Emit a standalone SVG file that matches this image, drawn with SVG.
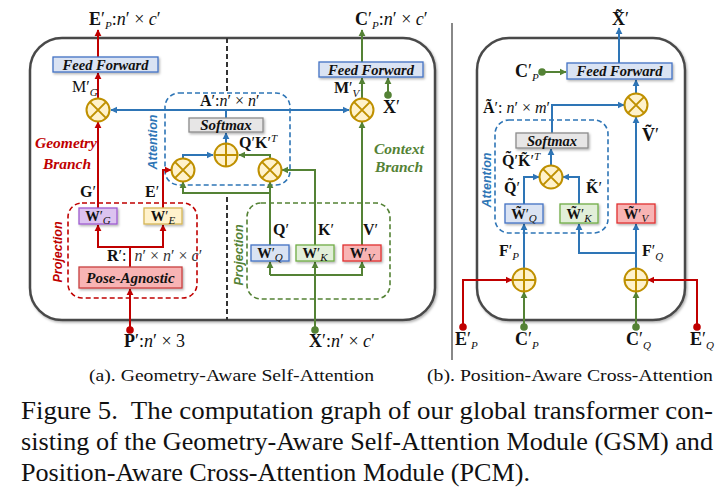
<svg xmlns="http://www.w3.org/2000/svg" xmlns:xlink="http://www.w3.org/1999/xlink" width="726" height="500" viewBox="0 0 726 500">
<defs>
<style>
.ln{fill:none;stroke-width:2}
.r{stroke:#c00000}.g{stroke:#548235}.b{stroke:#2e75b6}
.outer{fill:#fff;stroke:#4a4a4a;stroke-width:2.5}
.dash{fill:none;stroke-width:1.6;stroke-dasharray:5 3}
.box{stroke-width:1.3}
.op{fill:#fff2cc;stroke:#bf9000;stroke-width:2}
.m{font-family:"Liberation Serif",serif;font-size:16px;fill:#111}
.io{font-size:18px}
.mb{font-family:"Liberation Serif",serif;font-size:14.5px;fill:#111;text-anchor:middle}
.bd{font-weight:bold}
.it{font-style:italic}
.sb{font-style:italic;font-size:11px}
.lb{font-family:"Liberation Serif",serif;font-weight:bold;font-style:italic;fill:#111;text-anchor:middle}
.vt{font-family:"Liberation Sans",sans-serif;font-weight:bold;font-style:italic;font-size:12.5px;text-anchor:middle}
.br{font-family:"Liberation Serif",serif;font-weight:bold;font-style:italic;font-size:15.5px;text-anchor:middle}
.cap{font-family:"Liberation Serif",serif;fill:#111}
</style>
<filter id="sh" x="-20%" y="-20%" width="140%" height="160%"><feDropShadow dx="1.2" dy="1.5" stdDeviation="0.9" flood-color="#000" flood-opacity="0.3"/></filter>
<marker id="aR" viewBox="0 0 10 10" refX="9" refY="5" markerWidth="3.6" markerHeight="3.6" orient="auto"><path d="M0,0 L10,5 L0,10 z" fill="#c00000"/></marker>
<marker id="aG" viewBox="0 0 10 10" refX="9" refY="5" markerWidth="3.6" markerHeight="3.6" orient="auto"><path d="M0,0 L10,5 L0,10 z" fill="#548235"/></marker>
<marker id="aB" viewBox="0 0 10 10" refX="9" refY="5" markerWidth="3.6" markerHeight="3.6" orient="auto"><path d="M0,0 L10,5 L0,10 z" fill="#2e75b6"/></marker>
<g id="otimes"><circle r="11.5" class="op"/><path d="M-8.1,-8.1 L8.1,8.1 M-8.1,8.1 L8.1,-8.1" stroke="#bf9000" stroke-width="2"/></g>
<g id="oplus"><circle r="11.5" class="op"/><path d="M-11.5,0 H11.5 M0,-11.5 V11.5" stroke="#bf9000" stroke-width="2"/></g>
</defs>
<rect width="726" height="500" fill="#fff"/>

<!-- outer frames -->
<g id="frames">
<rect x="30" y="38" width="405" height="282" rx="32" class="outer" filter="url(#sh)"/>
<rect x="477" y="38" width="208" height="282" rx="32" class="outer" filter="url(#sh)"/>
<line x1="452" y1="23" x2="452" y2="360" stroke="#888" stroke-width="2"/>
<path d="M227,38 V93 M227,197 V320" stroke="#333" stroke-width="2" stroke-dasharray="5 3" fill="none"/>
</g>

<!-- dashed groups -->
<g id="groups">
<rect x="68" y="203" width="129" height="95" rx="14" class="dash" stroke="#c00000"/>
<rect x="247" y="203" width="143" height="96" rx="14" class="dash" stroke="#548235"/>
<rect x="165" y="93" width="125" height="92" rx="14" class="dash" stroke="#2e75b6"/>
<rect x="495" y="120" width="113" height="113" rx="14" class="dash" stroke="#2e75b6"/>
<text class="vt" fill="#c00000" transform="translate(62,252) rotate(-90)">Projection</text>
<text class="vt" fill="#548235" transform="translate(243,255) rotate(-90)">Projection</text>
<text class="vt" fill="#2e75b6" font-size="12" transform="translate(157,142) rotate(-90)">Attention</text>
<text class="vt" fill="#2e75b6" font-size="12" transform="translate(491,180) rotate(-90)">Attention</text>
</g>

<!-- connectors -->
<g id="connectors">
<!-- left: red -->
<path class="ln r" d="M130,330 V289" marker-end="url(#aR)"/>
<path class="ln r" d="M130,267 V247 H98 V225" marker-end="url(#aR)"/>
<path class="ln r" d="M130,247 H163 V225" marker-end="url(#aR)"/>
<path class="ln r" d="M98,208 V122" marker-end="url(#aR)"/>
<path class="ln r" d="M98,98.5 V73" marker-end="url(#aR)"/>
<path class="ln r" d="M98,57 V30" marker-end="url(#aR)"/>
<path class="ln r" d="M163,208 V170 H171" marker-end="url(#aR)"/>
<circle cx="130" cy="330" r="3.8" fill="#c00000"/>
<!-- left: blue -->
<path class="ln b" d="M226,118 V110 H111" marker-end="url(#aB)"/>
<path class="ln b" d="M226,110 H349" marker-end="url(#aB)"/>
<path class="ln b" d="M183,158 V155 H213" marker-end="url(#aB)"/>
<path class="ln b" d="M226,143 V133" marker-end="url(#aB)"/>
<!-- left: green -->
<path class="ln g" d="M270,158 V155 H239" marker-end="url(#aG)"/>
<path class="ln g" d="M315,330 V262" marker-end="url(#aG)"/>
<path class="ln g" d="M270,275 H362 V262" marker-end="url(#aG)"/>
<path class="ln g" d="M270,275 V262" marker-end="url(#aG)"/>
<path class="ln g" d="M270,245 V182" marker-end="url(#aG)"/>
<path class="ln g" d="M270,193 H183 V182" marker-end="url(#aG)"/>
<path class="ln g" d="M315,245 V170 H282" marker-end="url(#aG)"/>
<path class="ln g" d="M362,245 V122" marker-end="url(#aG)"/>
<path class="ln g" d="M362,98.5 V78" marker-end="url(#aG)"/>
<path class="ln g" d="M362,62 V30" marker-end="url(#aG)"/>
<path class="ln g" d="M388,95 V78" marker-end="url(#aG)"/>
<circle cx="315" cy="330" r="3.8" fill="#548235"/>
<circle cx="388" cy="95" r="3.8" fill="#548235"/>
<!-- right: blue -->
<path class="ln b" d="M619,63 V28" marker-end="url(#aB)"/>
<path class="ln b" d="M636,93 V80" marker-end="url(#aB)"/>
<path class="ln b" d="M552,133 V105 H624" marker-end="url(#aB)"/>
<path class="ln b" d="M636,204 V117" marker-end="url(#aB)"/>
<path class="ln b" d="M551,165 V149" marker-end="url(#aB)"/>
<path class="ln b" d="M524,204 V177 H539" marker-end="url(#aB)"/>
<path class="ln b" d="M579,204 V177 H563" marker-end="url(#aB)"/>
<path class="ln b" d="M524,268 V224" marker-end="url(#aB)"/>
<path class="ln b" d="M636,268 V224" marker-end="url(#aB)"/>
<path class="ln b" d="M636,253 H579 V224" marker-end="url(#aB)"/>
<!-- right: green -->
<path class="ln g" d="M542,72 H566" marker-end="url(#aG)"/>
<path class="ln g" d="M524,327 V292" marker-end="url(#aG)"/>
<path class="ln g" d="M636,327 V292" marker-end="url(#aG)"/>
<circle cx="542" cy="72" r="3.8" fill="#548235"/>
<circle cx="524" cy="327" r="3.8" fill="#548235"/>
<circle cx="636" cy="327" r="3.8" fill="#548235"/>
<!-- right: red -->
<path class="ln r" d="M463,327 V280 H512" marker-end="url(#aR)"/>
<path class="ln r" d="M697,327 V280 H648" marker-end="url(#aR)"/>
<circle cx="463" cy="327" r="3.8" fill="#c00000"/>
<circle cx="697" cy="327" r="3.8" fill="#c00000"/>
</g>

<!-- left nodes -->
<g id="ff-left">
<rect x="53" y="57" width="105" height="15" fill="#dae3f3" stroke="#4472c4" class="box" filter="url(#sh)"/>
<text class="lb" x="105.5" y="69.5" font-size="14.5">Feed Forward</text>
</g>
<g id="ff-ctx">
<rect x="319" y="62" width="104" height="15" fill="#dae3f3" stroke="#4472c4" class="box" filter="url(#sh)"/>
<text class="lb" x="371" y="74.5" font-size="14.5">Feed Forward</text>
</g>
<g id="mul-geo"><use xlink:href="#otimes" x="98" y="110"/></g>
<g id="mul-ctx"><use xlink:href="#otimes" x="362" y="110"/></g>
<g id="softmax-left">
<rect x="189" y="118" width="74" height="14" fill="#e7e6e6" stroke="#8c8c8c" class="box" filter="url(#sh)"/>
<text class="lb" x="226" y="130" font-size="15">Softmax</text>
</g>
<g id="add-att"><use xlink:href="#oplus" x="226" y="155"/></g>
<g id="mul-eq"><use xlink:href="#otimes" x="183" y="170"/></g>
<g id="mul-qk"><use xlink:href="#otimes" x="270" y="170"/></g>
<g id="wg">
<rect x="79" y="208" width="38" height="16" fill="#dcc3f0" stroke="#9e5ccf" class="box" filter="url(#sh)"/>
<text class="mb" x="98" y="220.5"><tspan class="bd">W</tspan>′<tspan class="sb" dy="3">G</tspan></text>
</g>
<g id="we">
<rect x="144" y="208" width="38" height="16" fill="#fff2cc" stroke="#d6b656" class="box" filter="url(#sh)"/>
<text class="mb" x="163" y="220.5"><tspan class="bd">W</tspan>′<tspan class="sb" dy="3">E</tspan></text>
</g>
<g id="pose-agnostic">
<rect x="79" y="267" width="103" height="21" fill="#f8b4b4" stroke="#c94040" class="box" filter="url(#sh)"/>
<text class="lb" x="130.5" y="282.5" font-size="15">Pose-Agnostic</text>
</g>
<g id="wq">
<rect x="251" y="245" width="38" height="16" fill="#dae3f3" stroke="#4472c4" class="box" filter="url(#sh)"/>
<text class="mb" x="270" y="257.5"><tspan class="bd">W</tspan>′<tspan class="sb" dy="3">Q</tspan></text>
</g>
<g id="wk">
<rect x="296" y="245" width="38" height="16" fill="#e2efd9" stroke="#70ad47" class="box" filter="url(#sh)"/>
<text class="mb" x="315" y="257.5"><tspan class="bd">W</tspan>′<tspan class="sb" dy="3">K</tspan></text>
</g>
<g id="wv">
<rect x="343" y="245" width="38" height="16" fill="#f8b4b4" stroke="#e03030" class="box" filter="url(#sh)"/>
<text class="mb" x="362" y="257.5"><tspan class="bd">W</tspan>′<tspan class="sb" dy="3">V</tspan></text>
</g>

<!-- right nodes -->
<g id="ff-right">
<rect x="567" y="63" width="105" height="16" fill="#dae3f3" stroke="#4472c4" class="box" filter="url(#sh)"/>
<text class="lb" x="619.5" y="76" font-size="14.5">Feed Forward</text>
</g>
<g id="mul-av"><use xlink:href="#otimes" x="636" y="105"/></g>
<g id="softmax-right">
<rect x="516" y="133" width="72" height="15" fill="#e7e6e6" stroke="#8c8c8c" class="box" filter="url(#sh)"/>
<text class="lb" x="552" y="145.5" font-size="14.5">Softmax</text>
</g>
<g id="mul-qk2"><use xlink:href="#otimes" x="551" y="177"/></g>
<g id="wq2">
<rect x="505" y="204" width="38" height="19" fill="#dae3f3" stroke="#4472c4" class="box" filter="url(#sh)"/>
<text class="mb" x="524" y="218.5"><tspan class="bd">W&#x303;</tspan>′<tspan class="sb" dy="3">Q</tspan></text>
</g>
<g id="wk2">
<rect x="560" y="204" width="38" height="19" fill="#e2efd9" stroke="#70ad47" class="box" filter="url(#sh)"/>
<text class="mb" x="579" y="218.5"><tspan class="bd">W&#x303;</tspan>′<tspan class="sb" dy="3">K</tspan></text>
</g>
<g id="wv2">
<rect x="617" y="204" width="38" height="19" fill="#f8b4b4" stroke="#e03030" class="box" filter="url(#sh)"/>
<text class="mb" x="636" y="218.5"><tspan class="bd">W&#x303;</tspan>′<tspan class="sb" dy="3">V</tspan></text>
</g>
<g id="add-p"><use xlink:href="#oplus" x="524" y="280"/></g>
<g id="add-q"><use xlink:href="#oplus" x="636" y="280"/></g>

<!-- labels -->
<g id="labels">
<text class="m io" x="89" y="25"><tspan class="bd">E</tspan>′<tspan class="sb" dy="4">P</tspan><tspan dy="-4">:</tspan><tspan class="it">n</tspan>′ × <tspan class="it">c</tspan>′</text>
<text class="m io" x="355" y="25"><tspan class="bd">C</tspan>′<tspan class="sb" dy="4">P</tspan><tspan dy="-4">:</tspan><tspan class="it">n</tspan>′ × <tspan class="it">c</tspan>′</text>
<text class="m" x="72" y="92"><tspan>M</tspan>′<tspan class="sb" dy="4">G</tspan></text>
<text class="m" x="334" y="93"><tspan class="bd">M</tspan>′<tspan class="sb" dy="4">V</tspan></text>
<text class="m io" x="383" y="113"><tspan class="bd">X</tspan>′</text>
<text class="br" fill="#c00000" x="66" y="148">Geometry</text>
<text class="br" fill="#c00000" x="67" y="169">Branch</text>
<text class="br" fill="#548235" x="399" y="154">Context</text>
<text class="br" fill="#548235" x="399" y="172">Branch</text>
<text class="m" x="200" y="106" font-size="14.5"><tspan class="bd">A</tspan>′:<tspan class="it">n</tspan>′ × <tspan class="it">n</tspan>′</text>
<text class="m" x="239" y="148" font-size="15"><tspan class="bd">Q</tspan>′<tspan class="bd">K</tspan>′<tspan class="sb" dy="-6">T</tspan></text>
<text class="m" x="80" y="197"><tspan class="bd">G</tspan>′</text>
<text class="m" x="145" y="197"><tspan class="bd">E</tspan>′</text>
<text class="m" x="107" y="261" font-size="14"><tspan class="bd">R</tspan>′:&#160; <tspan class="it" fill="#333">n</tspan><tspan fill="#333">′ × </tspan><tspan class="it" fill="#333">n</tspan><tspan fill="#333">′ × </tspan><tspan class="it" fill="#333">c</tspan><tspan fill="#333">′</tspan></text>
<text class="m" x="273" y="235" font-size="17"><tspan class="bd">Q</tspan>′</text>
<text class="m" x="318" y="235" font-size="17"><tspan class="bd">K</tspan>′</text>
<text class="m" x="363" y="235" font-size="17"><tspan class="bd">V</tspan>′</text>
<text class="m io" x="124" y="347"><tspan class="bd">P</tspan>′:<tspan class="it">n</tspan>′ × 3</text>
<text class="m io" x="309" y="347"><tspan class="bd">X</tspan>′:<tspan class="it">n</tspan>′ × <tspan class="it">c</tspan>′</text>

<text class="m io" x="612" y="25"><tspan class="bd">X&#x303;</tspan>′</text>
<text class="m io" x="515" y="77"><tspan class="bd">C</tspan>′<tspan class="sb" dy="4">P</tspan></text>
<text class="m" x="483" y="113" font-size="14.5"><tspan class="bd">Ã</tspan>′: <tspan class="it">n</tspan>′ × <tspan class="it">m</tspan>′</text>
<text class="m io" x="642" y="141"><tspan class="bd">Ṽ</tspan>′</text>
<text class="m" x="502" y="166" font-size="15"><tspan class="bd">Q&#x303;</tspan>′<tspan class="bd">K&#x303;</tspan>′<tspan class="sb" dy="-6">T</tspan></text>
<text class="m" x="504" y="193" font-size="17"><tspan class="bd">Q&#x303;</tspan>′</text>
<text class="m" x="586" y="193" font-size="17"><tspan class="bd">K&#x303;</tspan>′</text>
<text class="m" x="499" y="256" font-size="17"><tspan class="bd">F</tspan>′<tspan class="sb" dy="4">P</tspan></text>
<text class="m" x="642" y="256" font-size="17"><tspan class="bd">F</tspan>′<tspan class="sb" dy="4">Q</tspan></text>
<text class="m io" x="455" y="345"><tspan class="bd">E</tspan>′<tspan class="sb" dy="4">P</tspan></text>
<text class="m io" x="515" y="345"><tspan class="bd">C</tspan>′<tspan class="sb" dy="4">P</tspan></text>
<text class="m io" x="626" y="345"><tspan class="bd">C</tspan>′<tspan class="sb" dy="4">Q</tspan></text>
<text class="m io" x="690" y="345"><tspan class="bd">E</tspan>′<tspan class="sb" dy="4">Q</tspan></text>
</g>

<!-- captions -->
<g id="captions">
<text class="cap" x="89" y="381" font-size="17.5" textLength="285" lengthAdjust="spacingAndGlyphs">(a). Geometry-Aware Self-Attention</text>
<text class="cap" x="427" y="381" font-size="17.5" textLength="286" lengthAdjust="spacingAndGlyphs">(b). Position-Aware Cross-Attention</text>
<text class="cap" x="21" y="419" font-size="25.5" textLength="692" lengthAdjust="spacingAndGlyphs">Figure 5.&#160; The computation graph of our global transformer con-</text>
<text class="cap" x="21" y="450" font-size="25.5" textLength="692" lengthAdjust="spacingAndGlyphs">sisting of the Geometry-Aware Self-Attention Module (GSM) and</text>
<text class="cap" x="21" y="481" font-size="25.5" textLength="509" lengthAdjust="spacingAndGlyphs">Position-Aware Cross-Attention Module (PCM).</text>
</g>
</svg>
